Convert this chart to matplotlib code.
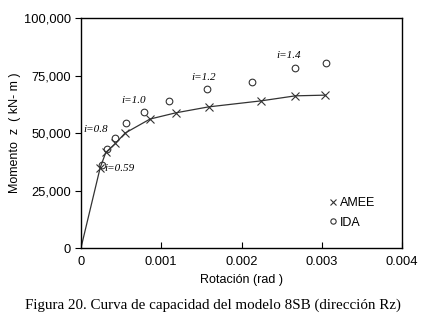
import numpy as np
import matplotlib
matplotlib.use("Agg")
import matplotlib.pyplot as plt
from matplotlib.ticker import FuncFormatter

# AMEE capacity curve (rotation rad, moment kN-m)
amee_rot = [0.0, 0.00024, 0.00031, 0.00043, 0.00055, 0.00086, 0.00118, 0.00159, 0.00224, 0.00267, 0.00304]
amee_mom = [0, 35000, 41600, 45500, 50000, 56100, 58800, 61400, 64000, 66200, 66500]
# IDA points
ida_rot = [0.00026, 0.00033, 0.00043, 0.00056, 0.00079, 0.00110, 0.00157, 0.00213, 0.00267, 0.00305]
ida_mom = [36100, 42900, 48000, 54500, 59000, 64000, 69300, 72300, 78100, 80300]
# intensity labels
lab_text = ["i=0.59", "i=0.8", "i=1.0", "i=1.2", "i=1.4"]
lab_x = [0.00029, 0.00003, 0.00050, 0.00137, 0.00244]
lab_y = [32500, 49500, 62200, 72200, 82000]

plt.rcParams['font.family'] = ['Liberation Sans', 'DejaVu Sans']

fig = plt.figure(figsize=(4.26, 3.18), dpi=100)
ax = fig.add_axes([0.190, 0.220, 0.754, 0.723])

ax.plot(amee_rot, amee_mom, color='#333333', lw=0.9, zorder=2)
ax.plot(amee_rot[1:], amee_mom[1:], ls='none', marker='x', ms=6, mew=0.8,
        color='#333333', label='AMEE', zorder=3)
ax.plot(ida_rot, ida_mom, ls='none', marker='o', ms=4.8, mew=0.8,
        mfc='none', mec='#333333', label='IDA', zorder=3)

for t, x, y in zip(lab_text, lab_x, lab_y):
    ax.text(x, y, t, family='Liberation Serif', style='italic', fontsize=8,
            va='bottom', ha='left')

ax.set_xlim(0, 0.004)
ax.set_ylim(0, 100000)
ax.set_xticks([0, 0.001, 0.002, 0.003, 0.004])
ax.set_xticklabels(['0', '0.001', '0.002', '0.003', '0.004'])
ax.set_yticks([0, 25000, 50000, 75000, 100000])
ax.yaxis.set_major_formatter(FuncFormatter(lambda v, p: f"{int(v):,}"))
ax.tick_params(axis='x', direction='in', length=4, labelsize=9.3, pad=6)
ax.tick_params(axis='y', direction='out', length=4, labelsize=9.3, pad=3)
for s in ax.spines.values():
    s.set_linewidth(1.0)

ax.set_xlabel('Rotación (rad )', fontsize=9, labelpad=4)
ax.set_ylabel('Momento  z  ( kN- m )', fontsize=9, labelpad=2)

ax.legend(loc='lower right', bbox_to_anchor=(0.95, 0.035), frameon=False,
          fontsize=9, handlelength=0.7, handletextpad=0.2, labelspacing=0.6,
          markerscale=0.8)

fig.text(0.5, 0.03, 'Figura 20. Curva de capacidad del modelo 8SB (dirección Rz)',
         family='Liberation Serif', fontsize=10.8, ha='center')

fig.savefig('out.png', dpi=100)
